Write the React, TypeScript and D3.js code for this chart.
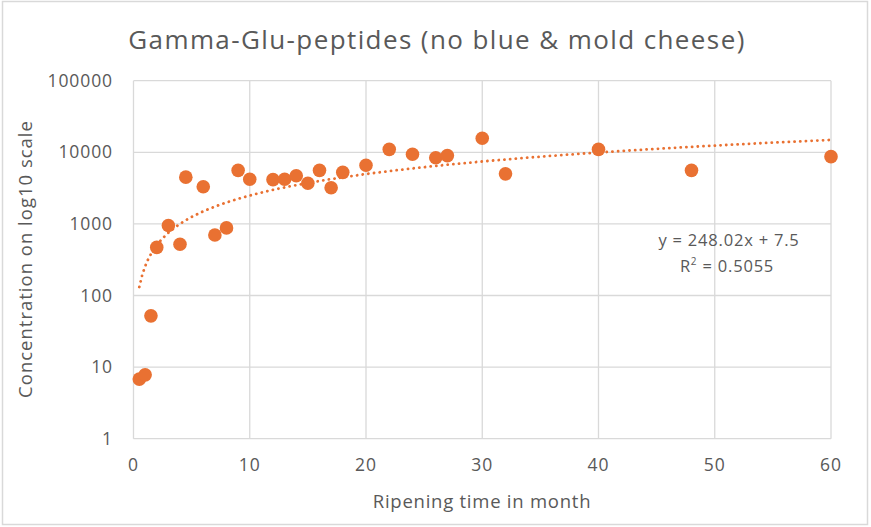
import React, { useEffect, useRef } from 'react';
import * as d3 from 'd3';

// ripening time (months) and concentration
const months = [0.5, 1, 1.5, 2, 3, 4, 4.5, 6, 7, 8, 9, 10, 12, 13, 14, 15, 16, 17, 18, 20, 22, 24, 26, 27, 30, 32, 40, 48, 60];
const concentration = [6.8, 7.8, 52, 470, 950, 520, 4500, 3300, 700, 880, 5600, 4200, 4150, 4200, 4700, 3700, 5600, 3200, 5250, 6600, 11000, 9400, 8400, 9000, 15700, 5000, 11000, 5600, 8700];

// linear trendline as shown in the chart label
const trendSlope = 248.02;
const trendIntercept = 7.5;
const trendRange = [0.5, 60];

const xTicks = [0, 10, 20, 30, 40, 50, 60];
const yTicks = [1, 10, 100, 1000, 10000, 100000];

const W = 871;
const H = 527;
const ORANGE = '#E97132';
const TEXT = '#595959';
const GRID = '#D9D9D9';
const FONT = '"Open Sans", "Noto Sans", sans-serif';

const App: React.FC = () => {
    const ref = useRef<SVGSVGElement | null>(null);

    useEffect(() => {
        if (!ref.current) return;
        const svg = d3.select(ref.current);
        svg.selectAll('*').remove();

        const m = { left: 133.5, right: 831, top: 80.7, bottom: 438.7 };
        const x = d3.scaleLinear().domain([0, 60]).range([m.left, m.right]);
        const y = d3.scaleLog().domain([1, 100000]).range([m.bottom, m.top]);

        svg.append('rect')
            .attr('x', 0).attr('y', 0).attr('width', W).attr('height', H)
            .attr('fill', '#fff');

        // chart border
        svg.append('rect')
            .attr('x', 2.5).attr('y', 1.5).attr('width', 865).attr('height', 523)
            .attr('fill', 'none').attr('stroke', GRID).attr('stroke-width', 1.5);

        // gridlines
        svg.append('g').selectAll('line.h').data(yTicks).enter().append('line')
            .attr('x1', m.left).attr('x2', m.right)
            .attr('y1', d => y(d)).attr('y2', d => y(d))
            .attr('stroke', GRID).attr('stroke-width', 1.3);
        svg.append('g').selectAll('line.v').data(xTicks).enter().append('line')
            .attr('y1', m.top).attr('y2', m.bottom)
            .attr('x1', d => x(d)).attr('x2', d => x(d))
            .attr('stroke', GRID).attr('stroke-width', 1.3);

        // tick labels
        svg.append('g').selectAll('text').data(yTicks).enter().append('text')
            .attr('x', 113).attr('y', d => y(d)).attr('dy', '0.35em')
            .attr('text-anchor', 'end')
            .style('font-family', FONT).style('font-size', '17.5px').style('fill', TEXT)
            .style('letter-spacing', '0.9px')
            .text(d => String(d));
        svg.append('g').selectAll('text').data(xTicks).enter().append('text')
            .attr('x', d => x(d)).attr('y', 465).attr('dy', '0.35em')
            .attr('text-anchor', 'middle')
            .style('font-family', FONT).style('font-size', '17.5px').style('fill', TEXT)
            .style('letter-spacing', '0.9px')
            .text(d => String(d));

        // title & axis labels
        svg.append('text')
            .attr('x', 437).attr('y', 49).attr('text-anchor', 'middle')
            .style('font-family', FONT).style('font-size', '26px').style('fill', TEXT)
            .style('letter-spacing', '1.4px')
            .text('Gamma-Glu-peptides (no blue & mold cheese)');
        svg.append('text')
            .attr('x', 482).attr('y', 508).attr('text-anchor', 'middle')
            .style('font-family', FONT).style('font-size', '18.5px').style('fill', TEXT)
            .style('letter-spacing', '0.75px')
            .text('Ripening time in month');
        svg.append('text')
            .attr('transform', 'translate(32, 259) rotate(-90)')
            .attr('text-anchor', 'middle')
            .style('font-family', FONT).style('font-size', '18.5px').style('fill', TEXT)
            .style('letter-spacing', '1px')
            .text('Concentration on log10 scale');

        // trendline (dotted), drawn from the displayed equation
        const trendX = d3.range(trendRange[0], trendRange[1] + 0.001, 0.25);
        const line = d3.line<number>()
            .x(d => x(d))
            .y(d => y(trendSlope * d + trendIntercept))
            .curve(d3.curveLinear);
        svg.append('path')
            .datum(trendX)
            .attr('d', line)
            .attr('fill', 'none')
            .attr('stroke', ORANGE)
            .attr('stroke-width', 2.8)
            .attr('stroke-linecap', 'round')
            .attr('stroke-dasharray', '0.1 5.6');

        // data points
        svg.append('g').selectAll('circle').data(months).enter().append('circle')
            .attr('cx', d => x(d))
            .attr('cy', (d, i) => y(concentration[i]))
            .attr('r', 6.8)
            .attr('fill', ORANGE);

        // equation label
        const eq = svg.append('text')
            .attr('text-anchor', 'middle')
            .style('font-family', FONT).style('font-size', '16.5px').style('fill', TEXT)
            .style('letter-spacing', '0.8px');
        eq.append('tspan').attr('x', 729).attr('y', 246).text(`y = ${trendSlope}x + ${trendIntercept}`);
        const r2 = eq.append('tspan').attr('x', 727).attr('y', 272).text('R');
        r2.append('tspan').attr('dy', -7).style('font-size', '10px').text('2');
        eq.append('tspan').attr('dy', 7).text(' = 0.5055');
    }, []);

    return (
        <svg
            ref={ref}
            width={W}
            height={H}
            style={{ position: 'absolute', left: 0, top: 0, display: 'block' }}
        />
    );
};

export default App;
